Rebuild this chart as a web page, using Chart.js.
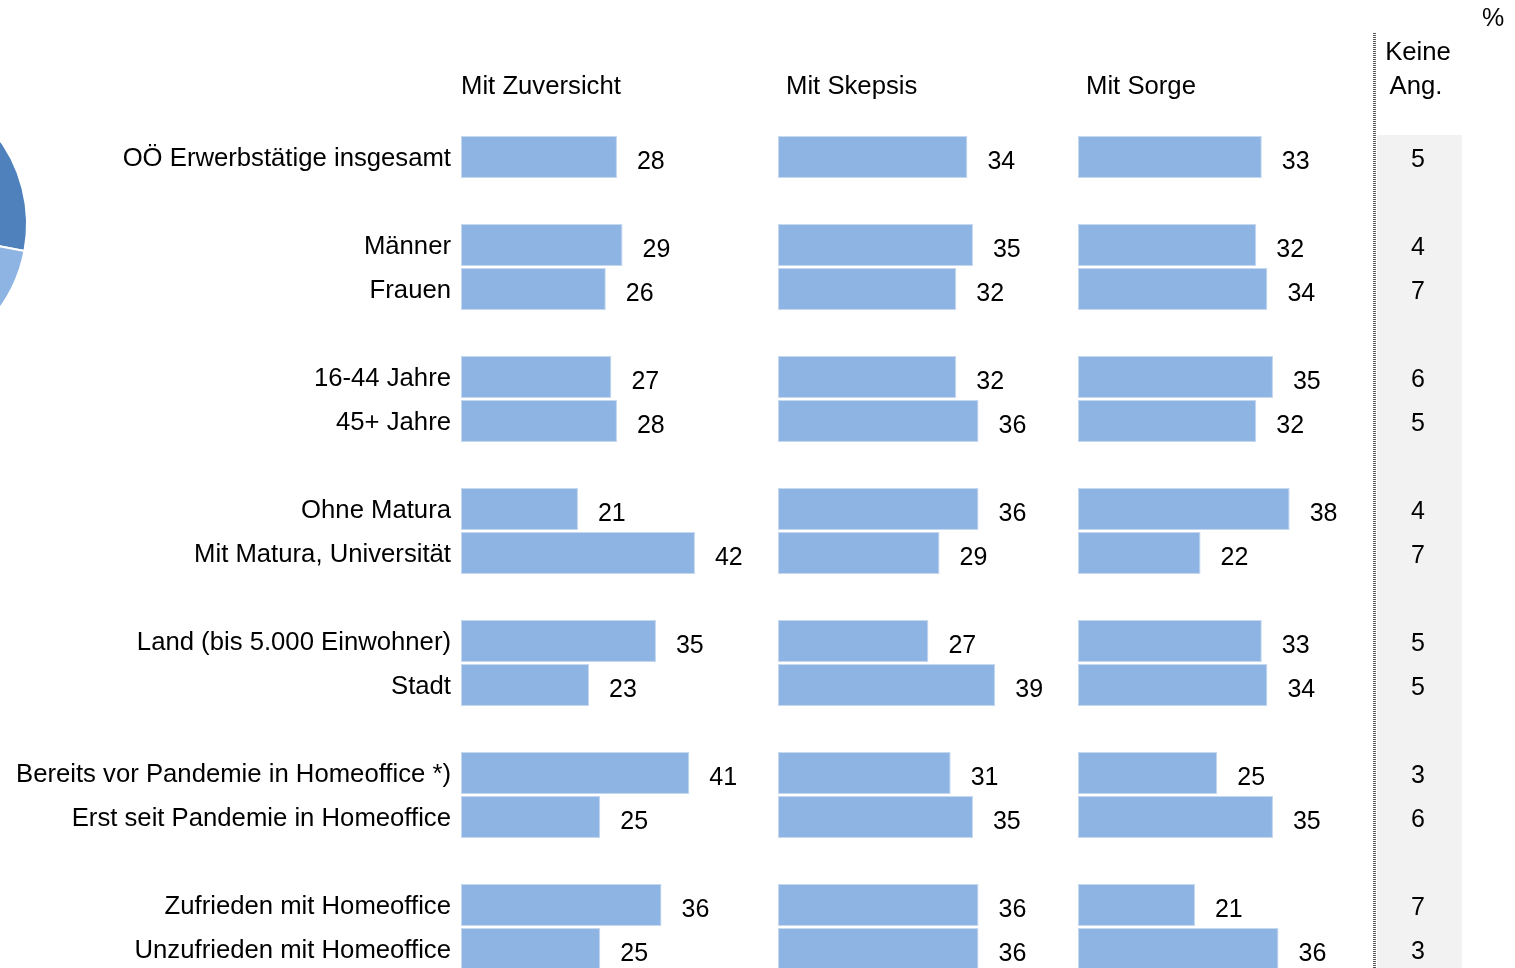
<!DOCTYPE html>
<html>
<head>
<meta charset="utf-8">
<script src="https://cdn.jsdelivr.net/npm/chart.js@4.4.1/dist/chart.umd.min.js"></script>
<style>
  html, body { margin: 0; padding: 0; overflow: hidden; background: #fff; }
  body { width: 1515px; height: 968px; position: relative; }
  #bars { position: absolute; left: 0; top: 0; }
  #pie { position: absolute; left: -267px; top: 74px; }
</style>
</head>
<body>
<canvas id="pie" width="300" height="300"></canvas>
<canvas id="bars" width="1515" height="975"></canvas>
<script>
// rows of the chart, '' = spacer between groups
const categories = [
  'OÖ Erwerbstätige insgesamt', '',
  'Männer', 'Frauen', '',
  '16-44 Jahre', '45+ Jahre', '',
  'Ohne Matura', 'Mit Matura, Universität', '',
  'Land (bis 5.000 Einwohner)', 'Stadt', '',
  'Bereits vor Pandemie in Homeoffice *)', 'Erst seit Pandemie in Homeoffice', '',
  'Zufrieden mit Homeoffice', 'Unzufrieden mit Homeoffice'
];
const zuversicht = [28, null, 29, 26, null, 27, 28, null, 21, 42, null, 35, 23, null, 41, 25, null, 36, 25];
const skepsis    = [34, null, 35, 32, null, 32, 36, null, 36, 29, null, 27, 39, null, 31, 35, null, 36, 36];
const sorge      = [33, null, 32, 34, null, 35, 32, null, 38, 22, null, 33, 34, null, 25, 35, null, 21, 36];
const keineAng   = [5, null, 4, 7, null, 6, 5, null, 4, 7, null, 5, 5, null, 3, 6, null, 7, 3];
const panelTitles = ['Mit Zuversicht', 'Mit Skepsis', 'Mit Sorge'];

// overall result, shown as the cut-off pie on the left
const pieLabels = ['Mit Zuversicht', 'Mit Skepsis', 'Mit Sorge', 'Keine Ang.'];
const pieValues = [28, 34, 33, 5];

const FONT = '"Liberation Sans", Arial, sans-serif';
const BAR = '#8EB4E3';
const PLOT_LEFT = 461;
const PLOT_RIGHT = 1515;
const PX_PER_UNIT = 5.57;
const panelStart = [461, 778, 1078];

// each panel gets its own hidden x axis, shifted so that 0 lands at the panel start
function panelAxis(i) {
  const min = -(panelStart[i] - PLOT_LEFT) / PX_PER_UNIT;
  return {
    type: 'linear', display: false,
    min: min, max: min + (PLOT_RIGHT - PLOT_LEFT) / PX_PER_UNIT
  };
}

const decorations = {
  id: 'decorations',
  beforeDatasetsDraw(chart) {
    const ctx = chart.ctx;
    ctx.save();
    // grey "Keine Ang." column
    ctx.fillStyle = '#F2F2F2';
    ctx.fillRect(1377, 135, 85, 840);
    // separator line
    ctx.strokeStyle = '#555';
    ctx.lineWidth = 3;
    ctx.setLineDash([1, 1]);
    ctx.beginPath();
    ctx.moveTo(1374.5, 33);
    ctx.lineTo(1374.5, 975);
    ctx.stroke();
    ctx.restore();
  },
  afterDatasetsDraw(chart) {
    const ctx = chart.ctx;
    const yScale = chart.scales.y;
    ctx.save();
    ctx.fillStyle = '#000';
    ctx.textBaseline = 'middle';

    // value labels next to the bars
    ctx.font = '25px ' + FONT;
    chart.data.datasets.forEach((ds, di) => {
      const meta = chart.getDatasetMeta(di);
      meta.data.forEach((el, i) => {
        if (ds.data[i] == null) return;
        ctx.textAlign = 'left';
        ctx.fillText(String(ds.data[i]), el.x + 20, el.y + 5);
      });
    });

    // keine Angabe column
    ctx.textAlign = 'center';
    keineAng.forEach((v, i) => {
      if (v == null) return;
      ctx.fillText(String(v), 1418, yScale.getPixelForValue(i) + 3);
    });

    // headers
    ctx.font = '25.7px ' + FONT;
    ctx.textAlign = 'left';
    ctx.fillText(panelTitles[0], 461, 87);
    ctx.fillText(panelTitles[1], 786, 87);
    ctx.fillText(panelTitles[2], 1086, 87);
    ctx.textAlign = 'center';
    ctx.fillText('Keine', 1418, 53);
    ctx.fillText('Ang.', 1416, 87);
    ctx.font = '25px ' + FONT;
    ctx.fillText('%', 1493, 19);
    ctx.restore();
  }
};

function barSet(label, data, axis) {
  return {
    label: label,
    data: data,
    xAxisID: axis,
    grouped: false,
    backgroundColor: BAR,
    borderColor: '#C5D8F0',
    borderWidth: 1,
    borderSkipped: false,
    categoryPercentage: 1,
    barPercentage: 42 / 44
  };
}

new Chart(document.getElementById('bars'), {
  type: 'bar',
  data: {
    labels: categories,
    datasets: [
      barSet(panelTitles[0], zuversicht, 'x1'),
      barSet(panelTitles[1], skepsis, 'x2'),
      barSet(panelTitles[2], sorge, 'x3')
    ]
  },
  options: {
    indexAxis: 'y',
    responsive: false,
    animation: false,
    devicePixelRatio: 1,
    layout: { padding: { top: 135, bottom: 4, left: 0, right: 0 } },
    plugins: { legend: { display: false }, tooltip: { enabled: false } },
    scales: {
      x1: panelAxis(0),
      x2: panelAxis(1),
      x3: panelAxis(2),
      y: {
        type: 'category',
        offset: true,
        grid: { display: false, drawTicks: false },
        border: { display: false },
        ticks: {
          color: '#000',
          padding: 10,
          labelOffset: 2,
          autoSkip: false,
          font: { family: FONT, size: 25.7 }
        },
        afterFit(scale) {
          scale.width = PLOT_LEFT;
          scale.paddingTop = 0;
          scale.paddingBottom = 0;
        }
      }
    }
  },
  plugins: [decorations]
});

new Chart(document.getElementById('pie'), {
  type: 'pie',
  data: {
    labels: pieLabels,
    datasets: [{
      data: pieValues,
      backgroundColor: ['#4F81BD', '#8EB4E3', '#C6D9F1', '#D9D9D9'],
      borderColor: '#fff',
      borderWidth: 2
    }]
  },
  options: {
    responsive: false,
    animation: false,
    devicePixelRatio: 1,
    radius: 144,
    plugins: { legend: { display: false }, tooltip: { enabled: false } }
  }
});
</script>
</body>
</html>
